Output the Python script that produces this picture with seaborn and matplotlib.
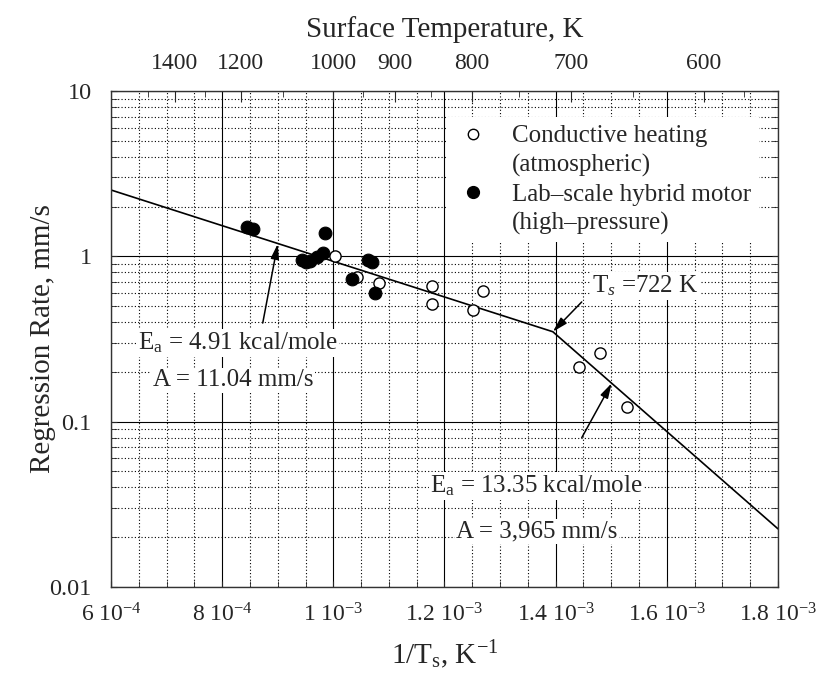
import numpy as np
import pandas as pd
import matplotlib.pyplot as plt
import seaborn as sns
from matplotlib.lines import Line2D
from matplotlib.ticker import FixedLocator, NullFormatter
plt.switch_backend("Agg")

# data (x in 1/K, y in mm/s)
open_x = [1.003e-3, 1.042e-3, 1.083e-3, 1.178e-3, 1.178e-3, 1.252e-3, 1.270e-3, 1.442e-3, 1.480e-3, 1.528e-3]
open_y = [1.00, 0.75, 0.687, 0.66, 0.513, 0.473, 0.617, 0.213, 0.261, 0.122]
filled_x = [0.845e-3, 0.855e-3, 0.943e-3, 0.950e-3, 0.958e-3, 0.970e-3, 0.982e-3, 0.985e-3,
            1.033e-3, 1.063e-3, 1.069e-3, 1.075e-3]
filled_y = [1.50, 1.46, 0.95, 0.93, 0.94, 0.995, 1.05, 1.38, 0.73, 0.95, 0.93, 0.597]
fit_x = [6.0e-4, 1.395e-3, 1.8e-3]
fit_y = [2.52, 0.35, 0.0225]

xticks = [6e-4, 8e-4, 1e-3, 1.2e-3, 1.4e-3, 1.6e-3, 1.8e-3]
xticklabels = ["6 10$^{-4}$", "8 10$^{-4}$", "1 10$^{-3}$", "1.2 10$^{-3}$",
               "1.4 10$^{-3}$", "1.6 10$^{-3}$", "1.8 10$^{-3}$"]
yticks = [0.01, 0.1, 1, 10]
yticklabels = ["0.01", "0.1", "1", "10"]
top_temps = [1400, 1200, 1000, 900, 800, 700, 600]
top_minor_temps = [1500, 1300, 1100, 950, 850, 750, 650, 575]

labels = ["Conductive heating", "(atmospheric)", "Lab\u2013scale hybrid motor", "(high\u2013pressure)"]

sns.set_style("ticks")
plt.rcParams["font.family"] = ["Liberation Serif", "DejaVu Serif"]
plt.rcParams["mathtext.fontset"] = "custom"
plt.rcParams["mathtext.rm"] = "Liberation Serif"
plt.rcParams["mathtext.it"] = "Liberation Serif:italic"

fig = plt.figure(figsize=(8.18, 6.86), dpi=100)
ax = fig.add_axes([0.1357, 0.1443, 0.8153, 0.7230])

ax.set_yscale("log")
ax.set_xlim(6e-4, 1.8e-3)
ax.set_ylim(0.01, 10)

# grid
ax.set_xticks(xticks)
ax.set_xticklabels(xticklabels, fontsize=17)
ax.xaxis.set_minor_locator(FixedLocator(np.arange(6e-4, 1.8e-3, 0.5e-4)))
ax.set_yticks(yticks)
ax.set_yticklabels(yticklabels, fontsize=17.5)
ax.yaxis.set_minor_formatter(NullFormatter())
ax.grid(which="major", color="black", lw=0.8, ls="-")
ax.grid(which="minor", color="black", lw=0.8, ls=(0, (1, 2)))
ax.set_axisbelow(True)
ax.tick_params(which="both", direction="in", top=False, right=True, length=4)
ax.tick_params(axis="x", pad=12)
ax.tick_params(axis="y", pad=14)
for s in ax.spines.values():
    s.set_linewidth(1.0)
    s.set_color("#333333")

sns.lineplot(x=fit_x, y=fit_y, ax=ax, color="black", lw=1.2, estimator=None, sort=False)
sns.scatterplot(x=open_x, y=open_y, ax=ax, marker="o", s=65, facecolor="white",
                edgecolor="black", linewidth=1.0, zorder=3)
sns.scatterplot(x=filled_x, y=filled_y, ax=ax, marker="o", s=85, color="black",
                edgecolor="black", zorder=3)

ax.set_xlabel("1/T$_\\mathrm{s}$, K$^{-1}$", fontsize=21, labelpad=8)
ax.set_ylabel("Regression Rate, mm/s", fontsize=21, labelpad=-5)

# top axis: surface temperature
top = ax.twiny()
top.set_xlim(ax.get_xlim())
top.set_xticks([1.0 / t for t in top_temps])
top.set_xticklabels([str(t) for t in top_temps], fontsize=17)
top.set_xticks([1.0 / t for t in top_minor_temps], minor=True)
top.tick_params(which="major", direction="in", length=8, pad=12)
top.tick_params(which="minor", direction="in", length=4)
top.set_xlabel("Surface Temperature, K", fontsize=21, labelpad=12)
for s in top.spines.values():
    s.set_visible(False)

# legend
handles = [
    Line2D([], [], ls="none", marker="o", mfc="white", mec="black", ms=7.5),
    Line2D([], [], ls="none"),
    Line2D([], [], ls="none", marker="o", mfc="black", mec="black", ms=8.5),
    Line2D([], [], ls="none"),
]
leg = ax.legend(handles, labels, loc="upper left", bbox_to_anchor=(0.487, 0.972),
                fontsize=18, frameon=True, framealpha=1, facecolor="white",
                edgecolor="none", fancybox=False, labelspacing=0.25,
                handletextpad=0.86, borderpad=0.3, handlelength=1.4)
leg.set_zorder(5)

box = dict(facecolor="white", edgecolor="none", pad=1)
arrow = dict(arrowstyle="-|>,head_length=0.9,head_width=0.25", color="black", lw=1.1,
             shrinkA=0, shrinkB=0)
ax.annotate("", xy=(9.0e-4, 1.19), xytext=(8.73e-4, 0.395), arrowprops=arrow, zorder=4)
ax.text(6.48e-4, 0.30, "E$_\\mathrm{a}$ = 4.91 kcal/mole", fontsize=18, va="center",
        ha="left", bbox=box, zorder=4)
ax.text(6.75e-4, 0.178, "A = 11.04 mm/s", fontsize=18, va="center", ha="left",
        bbox=box, zorder=4)

ax.annotate("", xy=(1.395e-3, 0.35), xytext=(1.447e-3, 0.53), arrowprops=arrow, zorder=4)
ax.text(1.465e-3, 0.66, "T$_s$ =722 K", fontsize=18, va="center", ha="left",
        bbox=box, zorder=4)

ax.annotate("", xy=(1.501e-3, 0.171), xytext=(1.447e-3, 0.08), arrowprops=arrow, zorder=4)
ax.text(1.174e-3, 0.041, "E$_\\mathrm{a}$ = 13.35 kcal/mole", fontsize=18, va="center",
        ha="left", bbox=box, zorder=4)
ax.text(1.221e-3, 0.0218, "A = 3,965 mm/s", fontsize=18, va="center", ha="left",
        bbox=box, zorder=4)

fig.savefig("out.png", dpi=100)
